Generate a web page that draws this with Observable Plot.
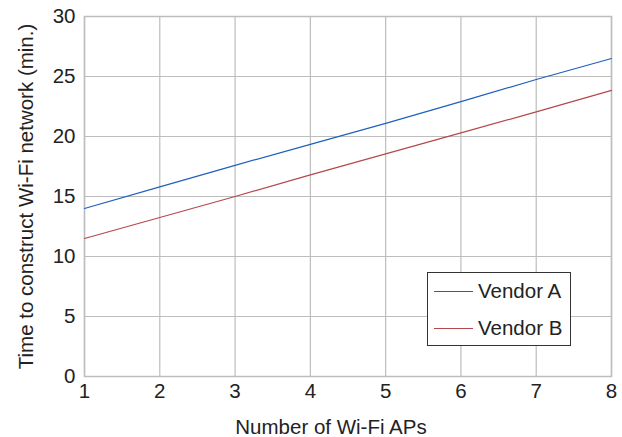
<!DOCTYPE html>
<html>
<head>
<meta charset="utf-8">
<script src="https://cdn.jsdelivr.net/npm/d3@7"></script>
<script src="https://cdn.jsdelivr.net/npm/@observablehq/plot@0.6"></script>
<style>
  html, body { margin: 0; padding: 0; background: #fff; }
  #wrap { position: relative; width: 622px; height: 437px; font-family: "Liberation Sans", Arial, sans-serif; }
  #wrap svg text { font-size: 20.5px; }
  #legend { position: absolute; left: 427px; top: 272px; width: 144px; height: 74px; border: 1px solid #333; background: #fff; box-sizing: border-box; font-size: 20.5px; color: #222; }
  .row { position: absolute; left: 6px; height: 20px; line-height: 20px; display: flex; align-items: center; white-space: nowrap; }
  .sw { width: 39px; height: 0; border-top: 1.2px solid; margin-right: 5px; }
</style>
</head>
<body>
<div id="wrap"></div>
<script>
const aps = [1, 2, 3, 4, 5, 6, 7, 8];
const vendorA = [14.0, 15.8, 17.6, 19.35, 21.1, 22.9, 24.75, 26.5];
const vendorB = [11.5, 13.25, 15.0, 16.8, 18.55, 20.3, 22.05, 23.85];
const seriesNames = ["Vendor A", "Vendor B"];
const seriesColors = ["#1f5fbf", "#b5484c"];
const xTicks = [1, 2, 3, 4, 5, 6, 7, 8];
const yTicks = [0, 5, 10, 15, 20, 25, 30];
const xLabel = "Number of Wi-Fi APs";
const yLabel = "Time to construct Wi-Fi network (min.)";

const data = [];
aps.forEach((x, i) => {
  data.push({x, y: vendorA[i], s: seriesNames[0]});
  data.push({x, y: vendorB[i], s: seriesNames[1]});
});

const grid = "#bdbdbd";
const chart = Plot.plot({
  width: 622,
  height: 437,
  marginLeft: 84,
  marginTop: 16,
  marginRight: 11,
  marginBottom: 61,
  style: { fontFamily: "Liberation Sans, Arial, sans-serif", fontSize: "20.5px", color: "#222", background: "#fff" },
  x: { domain: [1, 8], ticks: xTicks },
  y: { domain: [0, 30], ticks: yTicks },
  color: { domain: seriesNames, range: seriesColors },
  marks: [
    Plot.gridX(xTicks, { stroke: grid, strokeOpacity: 1, strokeWidth: 1.2 }),
    Plot.gridY(yTicks, { stroke: grid, strokeOpacity: 1, strokeWidth: 1.2 }),
    Plot.frame({ stroke: grid, strokeWidth: 1.5 }),
    Plot.axisX(xTicks, { tickSize: 0, tickPadding: 7, label: null, fontSize: 20.5 }),
    Plot.axisY(yTicks, { tickSize: 0, tickPadding: 9, label: yLabel, labelAnchor: "center", labelArrow: "none", labelOffset: 66, fontSize: 20.5 }),
    Plot.text([xLabel], { text: d => d, frameAnchor: "bottom", lineAnchor: "bottom", dx: -17, dy: 57, fontSize: 20.5, fill: "#222" }),
    Plot.line(data, { x: "x", y: "y", stroke: "s", strokeWidth: 1.2 })
  ]
});
const wrap = document.getElementById("wrap");
wrap.appendChild(chart);

const legend = document.createElement("div");
legend.id = "legend";
seriesNames.forEach((name, i) => {
  const row = document.createElement("div");
  row.className = "row";
  row.style.top = (i === 0 ? 8 : 45) + "px";
  row.innerHTML = `<span class="sw" style="border-color:${seriesColors[i]}"></span><span>${name}</span>`;
  legend.appendChild(row);
});
wrap.appendChild(legend);
</script>
</body>
</html>
